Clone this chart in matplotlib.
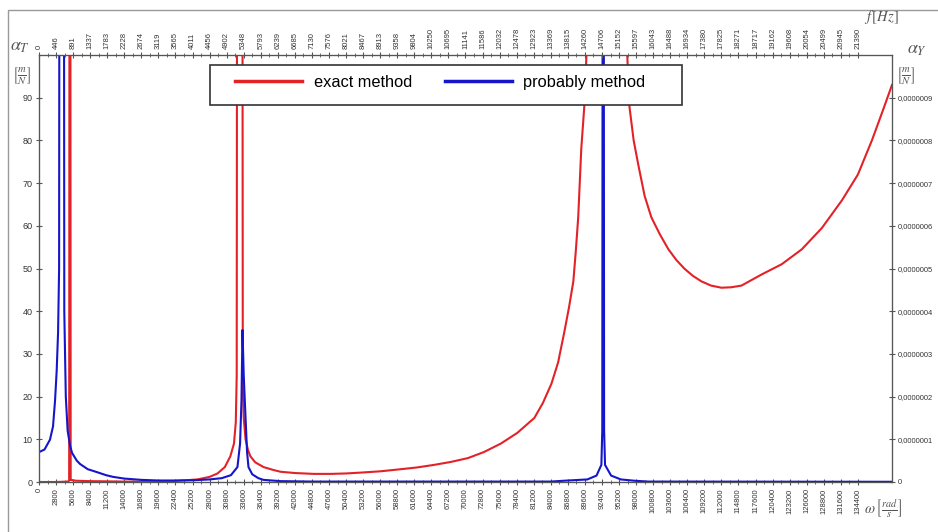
import numpy as np
import matplotlib
matplotlib.use('Agg')
import matplotlib.pyplot as plt
from matplotlib.patches import Rectangle

plt.rcParams['font.family'] = ['Liberation Sans', 'DejaVu Sans']
plt.rcParams['mathtext.fontset'] = 'stix'

# omega [rad/s] and receptance values
omega_exact = [0, 2800, 4700, 4950, 5080, 5200, 6000, 8400, 11200, 14000, 16800, 19600, 22400,
               24000, 26000, 28000, 29300, 30500, 31400, 32000, 32300, 32450, 32600, 33300,
               33450, 33600, 33900, 34300, 34700, 35500, 36850, 38500, 39650, 42000, 45100,
               47900, 50400, 52800, 56000, 59400, 62000, 64800, 67600, 70400, 73000, 75800,
               78500, 81300, 82700, 84100, 85200, 86200, 87000, 87700, 88100, 88500, 89000,
               89500, 90000, 90300, 96100, 96400, 96900, 97600, 98400, 99400, 100500, 101900,
               103300, 104600, 105900, 107300, 108700, 110300, 112000, 113600, 115300, 118600,
               121900, 125200, 128500, 131800, 134400, 136700, 138500, 140000]
alpha_exact = [0, 0, 0.1, 0.3, 300, 0.5, 0.3, 0.2, 0.15, 0.1, 0.1, 0.15, 0.25,
               0.4, 0.6, 1.2, 2.0, 3.5, 6, 9, 14, 25, 300, 300,
               22, 15, 10, 7.5, 6, 4.6, 3.5, 2.8, 2.4, 2.1, 1.9,
               1.9, 2.0, 2.2, 2.5, 3.0, 3.4, 4.0, 4.7, 5.6, 7.0, 9.0,
               11.5, 15, 18.5, 23, 28, 35, 41, 47, 54, 62, 78,
               88, 105, 300, 300, 105, 88, 80, 74, 67, 62, 58,
               54.5, 52, 50, 48.3, 47, 46, 45.5, 45.6, 46, 48.6,
               51, 54.5, 59.5, 66, 72, 80, 87, 93]

omega_prob = [0, 900, 1800, 2300, 2630, 2900, 3130, 3300, 3450, 4000, 4150, 4400, 4700, 5100,
              5430, 6200, 6750, 8000, 9540, 11000, 12170, 14000, 16800, 19600, 22400, 25200,
              28000, 30000, 31500, 32570, 33000, 33230, 33400, 33600, 33900, 34150, 34380,
              35000, 36000, 36850, 39650, 45000, 84000, 86200, 90000, 91500, 92300, 92450,
              92600, 92750, 92900, 93900, 95500, 97700, 100000, 140000]
alpha_prob = [7.0, 7.6, 9.9, 13, 19, 26, 35, 50, 300, 300, 40, 20, 12, 8.5,
              6.8, 5, 4.2, 3.0, 2.3, 1.6, 1.2, 0.8, 0.5, 0.35, 0.35, 0.4,
              0.6, 0.9, 1.6, 3.5, 9, 19, 35.6, 25, 15, 7, 3.5,
              1.8, 0.9, 0.5, 0.2, 0.1, 0.1, 0.3, 0.6, 1.5, 4, 12,
              300, 12, 4, 1.5, 0.6, 0.3, 0.1, 0.05]

omega_ticks = np.arange(0, 134401, 2800)
hz_labels = [str(int(round(w / (2 * np.pi)))) for w in omega_ticks]
left_ticks = np.arange(0, 91, 10)
right_labels = ['0', '0,0000001', '0,0000002', '0,0000003', '0,0000004', '0,0000005',
                '0,0000006', '0,0000007', '0,0000008', '0,0000009']

W, H = 938, 532
fig = plt.figure(figsize=(W / 100, H / 100), dpi=100)
ax = fig.add_axes([39 / W, 1 - 482 / H, (892 - 39) / W, (482 - 55) / H])

l1, = ax.plot(omega_exact, alpha_exact, color='#e32228', lw=1.5, label='exact method')
l2, = ax.plot(omega_prob, alpha_prob, color='#1515cc', lw=1.5, label='probably method')
ax.set_xlim(0, 140000)
ax.set_ylim(0, 100)

axis_col = '#555555'
for s in ax.spines.values():
    s.set_color(axis_col)

ax.set_xticks(omega_ticks)
ax.set_xticklabels([str(w) for w in omega_ticks], rotation=90, fontsize=5.5, color='#333333')
ax.set_xticks(omega_ticks[:-1] + 1400, minor=True)
ax.set_yticks(left_ticks)
ax.set_yticklabels([str(v) for v in left_ticks], fontsize=6.5, color='#333333')
ax.tick_params(axis='both', which='both', direction='inout', color=axis_col)
ax.tick_params(axis='x', which='major', length=5, pad=2)
ax.tick_params(axis='x', which='minor', length=3)
ax.tick_params(axis='y', length=5, pad=2)

# top axis in Hz
axt = ax.twiny()
axt.set_xlim(ax.get_xlim())
axt.set_xticks(omega_ticks)
axt.set_xticklabels(hz_labels, rotation=90, fontsize=5.5, color='#333333')
axt.set_xticks(omega_ticks[:-1] + 1400, minor=True)
axt.tick_params(axis='x', which='both', direction='inout', color=axis_col, pad=2)
axt.tick_params(axis='x', which='major', length=5)
axt.tick_params(axis='x', which='minor', length=3)

# right axis (labels run up to the edge like in the original)
axr = ax.twinx()
axr.set_ylim(0, 100)
axr.set_yticks(left_ticks)
axr.set_yticklabels(right_labels, fontsize=5.4, color='#333333')
axr.tick_params(axis='y', direction='inout', length=5, color=axis_col, pad=1.5)
for a in (axt, axr):
    for s in a.spines.values():
        s.set_color(axis_col)

# legend box drawn by hand so it gets the wide right margin of the original
fig.patches.append(Rectangle((210 / W, 1 - 105 / H), 472 / W, 40 / H, transform=fig.transFigure,
                             facecolor='white', edgecolor='#333333', lw=1.2, zorder=3))
leg = fig.legend(handles=[l1, l2], ncol=2, loc='upper left',
                 bbox_to_anchor=(225 / W, 1 - 65 / H), bbox_transform=fig.transFigure,
                 fontsize=11.8, frameon=False,
                 handlelength=4.1, handletextpad=0.7, columnspacing=2.0,
                 borderpad=0.6, borderaxespad=0)
leg.set_zorder(5)
for h in leg.get_lines():
    h.set_linewidth(2.5)

# axis titles
fig.text(20 / W, 1 - 46 / H, r'$\alpha_T$', fontsize=13, color='#555555', ha='center', va='center')
fig.text(22 / W, 1 - 75 / H, r'$\left[\frac{m}{N}\right]$', fontsize=11, color='#555555',
         ha='center', va='center')
fig.text(917 / W, 1 - 49 / H, r'$\alpha_Y$', fontsize=13, color='#555555', ha='center', va='center')
fig.text(906 / W, 1 - 75 / H, r'$\left[\frac{m}{N}\right]$', fontsize=11, color='#555555',
         ha='center', va='center')
fig.text(864 / W, 1 - 17 / H, r'$f\,[Hz]$', fontsize=10.5, color='#555555', ha='left', va='center')
fig.text(864 / W, 1 - 508 / H, r'$\omega\,\left[\frac{rad}{s}\right]$', fontsize=10.5, color='#555555',
         ha='left', va='center')

# outer chart frame
fig.patches.append(Rectangle((8 / W, -0.1), 1.2, 1.1 - 10 / H, transform=fig.transFigure,
                             fill=False, edgecolor='#999999', lw=1))

plt.savefig('out.png', dpi=100)
